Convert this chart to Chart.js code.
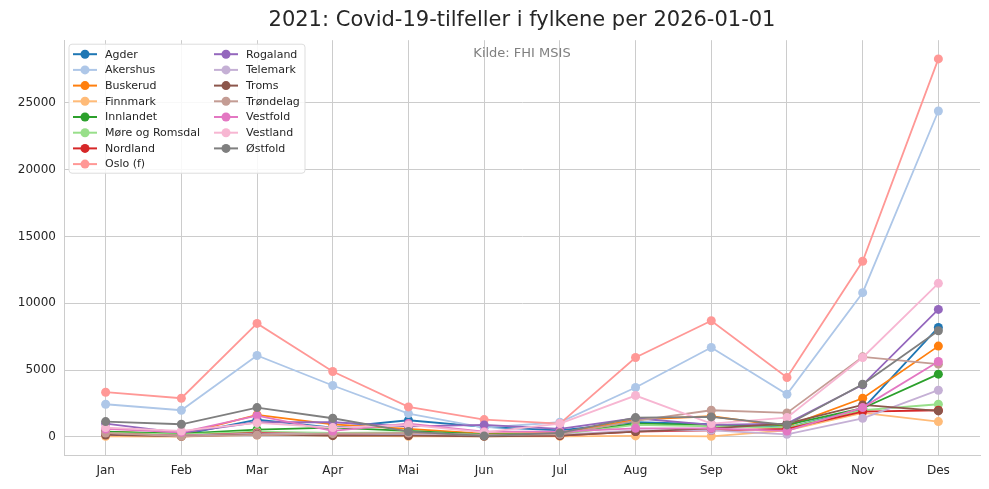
<!DOCTYPE html>
<html>
<head>
<meta charset="utf-8">
<script src="https://cdn.jsdelivr.net/npm/chart.js@4"></script>
<style>
    html, body { margin: 0; padding: 0; background: #fff; }
    #wrap { width: 989px; height: 489px; }
</style>
</head>
<body>
<div id="wrap"><canvas id="chart"></canvas></div>
<script>
const months = ['Jan', 'Feb', 'Mar', 'Apr', 'Mai', 'Jun', 'Jul', 'Aug', 'Sep', 'Okt', 'Nov', 'Des'];
const yTicks = [0, 5000, 10000, 15000, 20000, 25000];

const agder      = [350, 150, 1300, 700, 1250, 750, 500, 1100, 950, 700, 2100, 8200];
const akershus   = [2450, 2000, 6100, 3850, 1750, 700, 1100, 3700, 6700, 3200, 10800, 24400];
const buskerud   = [400, 200, 1650, 950, 600, 250, 300, 1300, 1550, 800, 2900, 6800];
const finnmark   = [50, 30, 150, 100, 50, 50, 50, 80, 50, 500, 1800, 1150];
const innlandet  = [400, 250, 550, 700, 450, 200, 250, 1000, 900, 900, 2150, 4700];
const more       = [300, 200, 400, 300, 350, 150, 200, 900, 800, 700, 2000, 2450];
const nordland   = [250, 100, 300, 200, 150, 100, 100, 400, 500, 600, 1900, 2000];
const oslo       = [3350, 2900, 8500, 4900, 2250, 1300, 1000, 5950, 8700, 4450, 13150, 28300];
const rogaland   = [1000, 300, 1100, 1100, 800, 900, 600, 1400, 900, 1000, 3900, 9550];
const telemark   = [200, 100, 250, 250, 200, 100, 150, 500, 500, 200, 1400, 3500];
const troms      = [150, 50, 200, 100, 100, 50, 100, 400, 650, 1000, 2400, 1950];
const trondelag  = [300, 50, 150, 250, 300, 150, 200, 1200, 2000, 1800, 6000, 5450];
const vestfold   = [600, 350, 1600, 450, 1000, 400, 400, 650, 650, 450, 2200, 5650];
const vestland   = [700, 450, 1050, 700, 900, 350, 1000, 3100, 1000, 1450, 5950, 11500];
const ostfold    = [1150, 950, 2200, 1400, 400, 80, 300, 1450, 1500, 900, 3950, 7950];

const series = [
    ['Agder', agder, '#1f77b4'],
    ['Akershus', akershus, '#aec7e8'],
    ['Buskerud', buskerud, '#ff7f0e'],
    ['Finnmark', finnmark, '#ffbb78'],
    ['Innlandet', innlandet, '#2ca02c'],
    ['Møre og Romsdal', more, '#98df8a'],
    ['Nordland', nordland, '#d62728'],
    ['Oslo (f)', oslo, '#ff9896'],
    ['Rogaland', rogaland, '#9467bd'],
    ['Telemark', telemark, '#c5b0d5'],
    ['Troms', troms, '#8c564b'],
    ['Trøndelag', trondelag, '#c49c94'],
    ['Vestfold', vestfold, '#e377c2'],
    ['Vestland', vestland, '#f7b6d2'],
    ['Østfold', ostfold, '#7f7f7f'],
];

const textColor = '#262626';
const gridColor = '#cccccc';
const font = 'DejaVu Sans';

// legend drawn inside the plot, two columns like matplotlib's ncol=2
const insideLegend = {
    id: 'insideLegend',
    afterDraw(chart) {
        const ctx = chart.ctx;
        const area = chart.chartArea;
        const x0 = area.left + 5, y0 = area.top + 4;
        const w = 236, h = 129, rowH = 15.7, colW = 141;
        ctx.save();
        ctx.beginPath();
        ctx.roundRect(x0, y0, w, h, 3);
        ctx.fillStyle = 'rgba(255,255,255,0.85)';
        ctx.fill();
        ctx.strokeStyle = '#dddddd';
        ctx.lineWidth = 1;
        ctx.stroke();
        ctx.font = `11px "${font}"`;
        ctx.textBaseline = 'middle';
        series.forEach(([label, , color], i) => {
            const col = i < 8 ? 0 : 1;
            const row = i < 8 ? i : i - 8;
            const lx = x0 + 4 + col * colW;
            const ly = y0 + 10 + row * rowH;
            ctx.strokeStyle = color;
            ctx.lineWidth = 2;
            ctx.beginPath();
            ctx.moveTo(lx, ly);
            ctx.lineTo(lx + 24, ly);
            ctx.stroke();
            ctx.fillStyle = color;
            ctx.beginPath();
            ctx.arc(lx + 12, ly, 4.5, 0, Math.PI * 2);
            ctx.fill();
            ctx.fillStyle = textColor;
            ctx.fillText(label, lx + 32, ly + 0.5);
        });
        // source note
        ctx.font = `13px "${font}"`;
        ctx.fillStyle = '#808080';
        ctx.textAlign = 'center';
        ctx.fillText('Kilde: FHI MSIS', (area.left + area.right) / 2, area.top + 13);
        ctx.restore();
    }
};

new Chart(document.getElementById('chart'), {
    type: 'line',
    data: {
        datasets: series.map(([label, values, color], i) => ({
            label,
            data: values.map((v, k) => ({ x: k, y: v })),
            borderColor: color,
            backgroundColor: color,
            borderWidth: 1.8,
            pointRadius: 4.5,
            pointHoverRadius: 4.5,
            pointBorderWidth: 0,
            tension: 0,
            order: series.length - i,
        })),
    },
    options: {
        responsive: true,
        maintainAspectRatio: false,
        animation: false,
        layout: { padding: { left: 0, right: 9, top: 0, bottom: 0 } },
        plugins: {
            legend: { display: false },
            tooltip: { enabled: false },
            title: {
                display: true,
                fullSize: false,
                text: '2021: Covid-19-tilfeller i fylkene per 2026-01-01',
                color: textColor,
                font: { family: font, size: 21, weight: 'normal' },
                padding: { top: 8, bottom: 7 },
            },
        },
        scales: {
            x: {
                type: 'linear',
                min: -0.55,
                max: 11.55,
                afterBuildTicks: s => { s.ticks = months.map((m, i) => ({ value: i })); },
                afterFit: s => { s.height = 34; },
                ticks: {
                    color: textColor,
                    font: { family: font, size: 12 },
                    padding: 9,
                    callback: v => months[v],
                },
                grid: { color: gridColor, drawTicks: false },
                border: { display: true, color: gridColor },
            },
            y: {
                min: -1350,
                max: 29700,
                afterBuildTicks: s => { s.ticks = yTicks.map(v => ({ value: v })); },
                afterFit: s => { s.width = 64; },
                ticks: {
                    color: textColor,
                    font: { family: font, size: 12 },
                    padding: 8,
                    callback: v => String(v),
                },
                grid: { color: gridColor, drawTicks: false },
                border: { display: true, color: gridColor },
            },
        },
    },
    plugins: [insideLegend],
});
</script>
</body>
</html>
